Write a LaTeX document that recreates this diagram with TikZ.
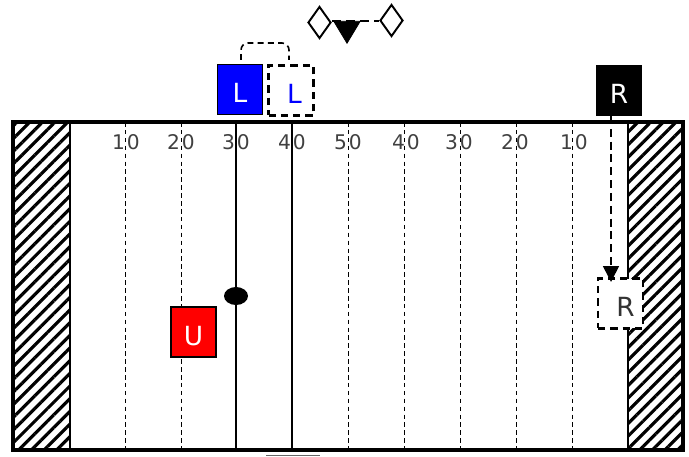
\documentclass[tikz,border=0pt]{standalone}
\usepackage{fontspec}
\setmainfont{DejaVu Sans}
\usetikzlibrary{patterns.meta,shapes.geometric,arrows.meta}

\tikzset{
	player/.style={rectangle, draw=black, line width=1.1pt, minimum width=0.9cm, minimum height=1.0cm, inner sep=0pt, text height=15.2pt, text depth=0pt, font=\fontsize{15}{15}\selectfont},
	moved/.style={player, line width=1.3pt, dash pattern=on 4.2pt off 2.8pt, fill=white},
	yardline/.style={line width=0.55pt, dash pattern=on 2.6pt off 1.9pt},
	goalline/.style={line width=0.8pt},
	yard/.style={font=\fontsize{11.5}{11.5}\selectfont\addfontfeatures{LetterSpace=10}, text=black!75},
	official/.style={diamond, draw=black, line width=1.1pt, fill=white, minimum width=0.46cm, minimum height=0.64cm, inner sep=0pt, shape aspect=0.73},
	hatch/.style={draw=black, line width=0.9pt, pattern={Lines[angle=45,distance=5.1pt,line width=1.8pt]}, pattern color=black}
}

\begin{document}
\begin{tikzpicture}[x=0.02cm,y=-0.02cm]
	\useasboundingbox (0,0) rectangle (689,456);

	% end zones
	\draw[hatch] (13,122) rectangle (70,450);
	\draw[hatch] (628,122) rectangle (683,450);

	% yard lines
	\foreach \x in {125,181,348,404,460,516,572} {
		\draw[yardline] (\x,122) -- (\x,450);
	}
	\foreach \x in {236,292} {
		\draw[goalline] (\x,122) -- (\x,450);
	}
	\foreach \x/\n in {126/10,181/20,236/30,292/40,348/50,406/40,459/30,515/20,574/10} {
		\node[yard] (y\x) at (\x,142.5) {\n};
	}
	\draw[line width=2.6pt] (13,122) rectangle (683,450);

	% bottom edge of a box
	\draw[black!60, line width=0.5pt] (266,455.5) -- (320,455.5);

	% officials
	\node[official] (off1) at (319.5,22.5) {};
	\node[official] (off2) at (391.5,20.5) {};
	\node[isosceles triangle, shape border rotate=-90, isosceles triangle apex angle=62, draw=black, fill=black, minimum height=0.44cm, inner sep=0pt, anchor=apex] (ref) at (347,44) {};
	\draw[line width=1pt, dash pattern=on 5pt off 3pt] (off1.east |- 0,21) -- (off2.west |- 0,21);

	% players
	\node[player, fill=blue, text=white] (Lold) at (240,89.5) {L};
	\node[moved, text=blue] (Lnew) at (291,90.5) {\hspace*{4pt}L};
	\node[player, fill=black, text=white] (Rold) at (619,90.5) {R};
	\node[moved, text=black!80] (Rnew) at (620.5,303.5) {\hspace*{5.6pt}R};
	\node[player, fill=red, text=white] (U) at (193.5,332) {U};
	\node[ellipse, fill=black, minimum width=0.48cm, minimum height=0.36cm, inner sep=0pt] (ball) at (236,296) {};

	% motion
	\coordinate (Ltop) at (241,60);
	\coordinate (Ntop) at (289,60);
	\draw[line width=0.9pt, dash pattern=on 3.4pt off 2.4pt, rounded corners=4pt] (Ltop) -- (241,43) -- (289,43) -- (Ntop);
	\coordinate (Rs) at (611,116);
	\coordinate (Re) at (611,282);
	\draw[line width=0.9pt, dash pattern=on 4.5pt off 2.8pt, -{Triangle[length=9pt,width=9pt]}] (Rs) -- (Re);
\end{tikzpicture}
\end{document}
